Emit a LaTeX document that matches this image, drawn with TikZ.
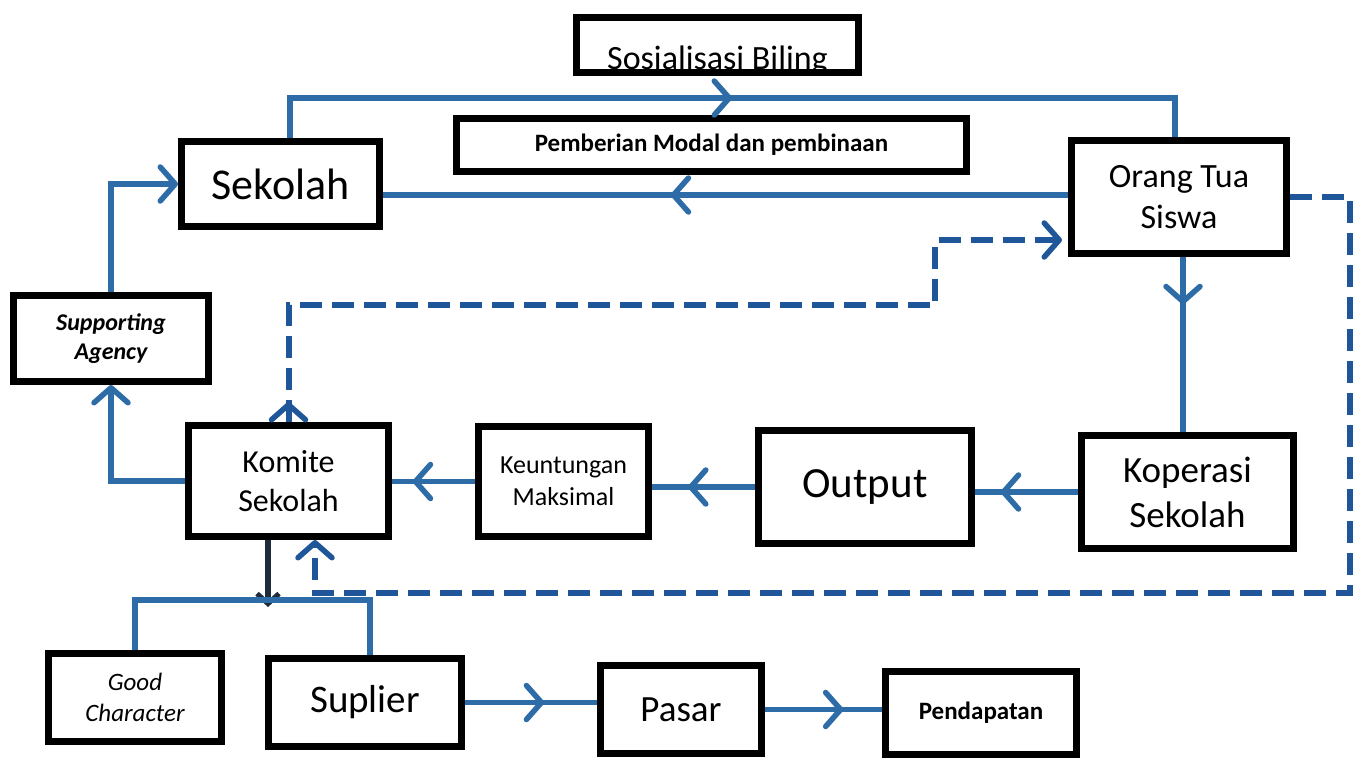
\documentclass[tikz,border=0pt]{standalone}
\usepackage{fontspec}
\setmainfont{Carlito}
\usetikzlibrary{arrows.meta,decorations.markings}
\definecolor{lineblue}{HTML}{2E6CA8}
\definecolor{dashblue}{HTML}{1F5599}
\definecolor{darkarrow}{HTML}{1E2B3C}
\newcommand{\fs}[1]{\fontsize{#1}{1.22\dimexpr #1pt\relax}\selectfont}
\begin{document}
\begin{tikzpicture}[x=1pt,y=-1pt,
  box/.style={draw=black,line width=7pt,fill=white,align=center,inner sep=0pt},
  conn/.style={draw=lineblue,line width=5.5pt},
  dashconn/.style={draw=dashblue,line width=6pt,dash pattern=on 22pt off 10pt},
  barb/.tip={Straight Barb[length=15pt,width=34pt,line width=5.5pt,round]},
  darkbarb/.tip={Straight Barb[length=10pt,width=22pt,line width=5pt]},
  midbarb/.style={postaction={decorate},decoration={markings,mark=at position #1 with {\arrow{barb}}}},
]
\useasboundingbox[fill=white] (0,0) rectangle (1366,760);

% boxes
\node[box,draw=none,outer sep=0pt,minimum width=282pt,minimum height=55pt] (sos) at (717.5,45) {};
\node[anchor=base,font=\fs{34}] (sostext) at (717.5,70) {Sosialisasi Biling};
\draw[black,line width=7pt] (sos.south west) rectangle (sos.north east);

\node[box,minimum width=510pt,minimum height=53pt,font=\bfseries\fs{25}] (pem) at (711.5,145) {Pemberian Modal dan pembinaan};
\node[box,minimum width=198pt,minimum height=85pt,font=\fs{44}] (sek) at (280.5,184) {Sekolah};
\node[box,minimum width=215pt,minimum height=113pt,font=\fs{34}] (ort) at (1179,197) {Orang Tua\\Siswa};
\node[box,minimum width=195pt,minimum height=86pt,font=\bfseries\itshape\fs{24}] (sup) at (111,338.5) {Supporting\\Agency};
\node[box,minimum width=200pt,minimum height=111pt,font=\fs{32}] (kom) at (288.5,481) {Komite\\Sekolah};
\node[box,minimum width=170pt,minimum height=110pt,font=\fs{26}] (keu) at (563.5,481.5) {Keuntungan\\Maksimal};
\node[box,minimum width=213pt,minimum height=113pt,font=\fs{43}] (out) at (865,487) {Output};
\node[box,minimum width=212pt,minimum height=113pt,font=\fs{37}] (kop) at (1187.5,492) {Koperasi\\Sekolah};
\node[box,minimum width=173pt,minimum height=88pt,font=\itshape\fs{25}] (good) at (135,697.5) {Good\\Character};
\node[box,minimum width=193pt,minimum height=88pt,font=\fs{39}] (supl) at (365,702.5) {Suplier};
\node[box,minimum width=161pt,minimum height=88pt,font=\fs{37}] (pas) at (681,709.5) {Pasar};
\node[box,minimum width=191pt,minimum height=83pt,font=\bfseries\fs{25}] (pend) at (981,713) {Pendapatan};

% helper coordinates
\coordinate (topy) at (0,98);
\coordinate (ortTop) at ([xshift=-4pt]ort.north);
\coordinate (ly) at (0,195);
\coordinate (dy) at (0,240);
\coordinate (dcorner) at (935,305);
\coordinate (rcorner) at (1350,593);
\coordinate (br) at (268,600);
\coordinate (brtip) at (268,607);

% connectors
\draw[conn,midbarb=0.5] ([xshift=9.5pt]sek.north) |- (ortTop |- topy) -- (ortTop);
\draw[conn,midbarb=0.58] (ort.west |- ly) -- (sek.east |- ly);
\draw[conn,-barb] (sup.north) |- (sek.west);
\draw[conn,-barb] (kom.west) -| (sup.south);
\draw[dashconn,-barb,shorten >=6pt,midbarb=20pt] (kom.north) |- (dcorner) |- (ort.west |- dy);
\draw[conn,midbarb=0.27] ([xshift=4pt]ort.south) -- ([xshift=-4.5pt]kop.north);
\draw[conn,midbarb=0.75] (kop.west) -- (out.east |- kop.west);
\draw[conn,midbarb=0.65] (out.west) -- (keu.east |- out.west);
\draw[conn,midbarb=0.75] (keu.west) -- (kom.east |- keu.west);
\draw[dashconn,-barb] (ort.east) -| (rcorner) -| ([xshift=26.5pt]kom.south);
\draw[darkarrow,line width=6pt,-darkbarb] ([xshift=-20.5pt]kom.south) -- (brtip);
\draw[conn] (good.north) |- (br) -| ([xshift=5pt]supl.north);
\draw[conn,midbarb=0.6] (supl.east) -- (pas.west |- supl.east);
\draw[conn,midbarb=0.67] (pas.east) -- (pend.west |- pas.east);
\end{tikzpicture}
\end{document}
